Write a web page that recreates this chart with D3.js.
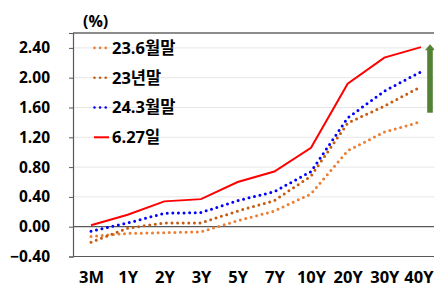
<!DOCTYPE html>
<html><head><meta charset="utf-8">
<script src="https://cdn.jsdelivr.net/npm/d3@7/dist/d3.min.js"></script>
<style>body{margin:0;background:#fff;}svg{display:block;font-family:"Open Sans","Noto Sans CJK KR",sans-serif;font-weight:bold;}</style>
</head><body><svg id="c" width="434" height="287"></svg>
<script>
const categories = ["3M","1Y","2Y","3Y","5Y","7Y","10Y","20Y","30Y","40Y"];
const seriesNames = ["23.6월말","23년말","24.3월말","6.27일"];
const s236 = [-0.13,-0.09,-0.08,-0.07,0.08,0.21,0.44,1.02,1.27,1.41];
const s23e = [-0.21,-0.02,0.05,0.05,0.21,0.35,0.68,1.39,1.62,1.88];
const s243 = [-0.06,0.05,0.18,0.19,0.35,0.47,0.74,1.46,1.82,2.08];
const s627 = [0.02,0.16,0.34,0.37,0.60,0.74,1.06,1.92,2.27,2.41];
const yTicks = [-0.4,0,0.4,0.8,1.2,1.6,2.0,2.4];
const arrowRange = [1.53, 2.45];

const colors = ["#ED7D31","#C55A11","#0000FF","#FF0000"];
const dotted = [true,true,true,false];
const data = [s236,s23e,s243,s627];
const FONT = '"Open Sans","Noto Sans CJK KR",sans-serif';

const svg = d3.select("#c");
const L = 73, T = 33, B = 256.5;
const x = d3.scalePoint().domain(categories).range([91, 421]);
const y = d3.scaleLinear().domain([-0.4, 2.6]).range([B, T]);

// gridlines
svg.append("g").selectAll("line").data(yTicks.filter(v=>v!==0 && v!==-0.4)).join("line")
  .attr("x1",L).attr("x2",434).attr("y1",d=>y(d)).attr("y2",d=>y(d))
  .attr("stroke","#e6e6e6").attr("stroke-width",1);
// top border
svg.append("line").attr("x1",L).attr("x2",434).attr("y1",T).attr("y2",T).attr("stroke","#8c8c8c").attr("stroke-width",2);
// zero line
svg.append("line").attr("x1",L).attr("x2",434).attr("y1",y(0)).attr("y2",y(0)).attr("stroke","#595959").attr("stroke-width",1.2);
// bottom line
svg.append("line").attr("x1",L).attr("x2",434).attr("y1",B).attr("y2",B).attr("stroke","#595959").attr("stroke-width",1.2);

// y axis
const yAxis = d3.axisLeft(y).tickValues(yTicks).tickFormat(d3.format(".2f")).tickSize(4).tickPadding(19);
const gy = svg.append("g").attr("transform",`translate(${L},0)`).call(yAxis);
gy.select(".domain").attr("stroke","#595959").attr("stroke-width",1.2);
gy.selectAll(".tick line").attr("stroke","#595959");
gy.selectAll("text").attr("fill","#000").style("font-size","15.5px").style("font-weight","bold")
  .style("font-family",FONT);

// x axis labels
const xAxis = d3.axisBottom(x).tickSize(0);
const gx = svg.append("g").attr("transform",`translate(0,${B})`).call(xAxis);
gx.select(".domain").remove();
gx.selectAll("text").attr("fill","#000").attr("y",26.5).attr("dy",0).style("font-size","16.5px").style("font-weight","bold")
  .style("font-family",FONT);
gx.selectAll(".tick").filter(d=>d===categories[categories.length-1]).select("text")
  .attr("text-anchor","end").attr("x",433 - x(categories[categories.length-1]));

// unit
svg.append("text").attr("x",83).attr("y",27).text("(%)").style("font-size","16px").attr("fill","#000");

// lines
const line = d3.line().x((d,i)=>x(categories[i])).y(d=>y(d));
data.forEach((s,k)=>{
  const p = svg.append("path").attr("d",line(s)).attr("fill","none").attr("stroke",colors[k]);
  if(dotted[k]) p.attr("stroke-width",3).attr("stroke-linecap","round").attr("stroke-dasharray","0 5.6");
  else p.attr("stroke-width",2);
});

// legend
const legY = [2.4,2.0,1.6,1.2];
seriesNames.forEach((n,k)=>{
  const yy = y(legY[k]);
  const l = svg.append("line").attr("x1",94).attr("x2",109).attr("y1",yy).attr("y2",yy).attr("stroke",colors[k]);
  if(dotted[k]) l.attr("stroke-width",2.6).attr("stroke-linecap","round").attr("stroke-dasharray","0 5.6").attr("x1",94.5).attr("x2",106);
  else l.attr("stroke-width",2);
  svg.append("text").attr("x",112).attr("y",yy).attr("dy","0.36em").text(n).style("font-size","16.5px").attr("fill","#000");
});

// green arrow
const ax = 430, a0 = y(arrowRange[0]), a1 = y(arrowRange[1]);
svg.append("rect").attr("x",ax-2.8).attr("y",a1+5).attr("width",5.6).attr("height",a0-a1-5).attr("fill","#548235");
svg.append("path").attr("d",`M${ax-5},${a1+6}L${ax},${a1}L${ax+5},${a1+6}Z`).attr("fill","#548235");
</script></body></html>
